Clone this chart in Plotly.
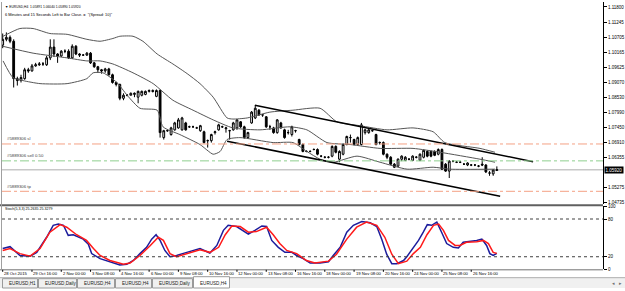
import plotly.graph_objects as go

# ---------------- data ----------------
symbol_header = "\u25BC EURUSD,H4  1.05891 1.06040 1.05890 1.05920"
timer_text = '6 Minutes and 15 Seconds Left to Bar Close. =  "(Spread: 10)"'

open_ = [1.1042,1.1063,1.1070,1.1056,1.0921,1.0914,1.0921,1.0953,1.0949,1.0967,
         1.0971,1.0974,1.0971,1.0996,1.1035,1.1010,1.1003,1.1020,1.1020,1.0996,
         1.1038,1.1010,1.1006,1.1006,1.1013,1.0978,1.0964,1.0953,1.0949,1.0956,
         1.0935,1.0907,1.0900,1.0850,1.0861,1.0861,1.0864,1.0854,1.0861,1.0864,
         1.0875,1.0878,1.0857,1.0878,1.0708,1.0733,1.0719,1.0736,1.0743,1.0736,
         1.0761,1.0747,1.0747,1.0743,1.0733,1.0729,1.0697,1.0697,1.0726,1.0736,
         1.0747,1.0740,1.0733,1.0736,1.0743,1.0765,1.0747,1.0708,1.0761,1.0779,
         1.0807,1.0790,1.0783,1.0747,1.0743,1.0726,1.0761,1.0736,1.0726,1.0719,
         1.0733,1.0701,1.0683,1.0658,1.0658,1.0665,1.0665,1.0641,1.0637,1.0637,
         1.0641,1.0676,1.0630,1.0648,1.0683,1.0708,1.0701,1.0683,1.0683,1.0726,
         1.0726,1.0733,1.0719,1.0690,1.0690,1.0648,1.0637,1.0612,1.0605,1.0630,
         1.0626,1.0630,1.0626,1.0637,1.0626,1.0637,1.0658,1.0658,1.0658,1.0648,
         1.0665,1.0612,1.0587,1.0623,1.0619,1.0619,1.0612,1.0609,1.0609,1.0609,
         1.0605,1.0612,1.0609,1.0580,1.0577,1.05891]
high = [1.1084,1.1088,1.1077,1.1063,1.0928,1.0935,1.0960,1.0960,1.0974,1.0978,
        1.0981,1.0981,1.1003,1.1063,1.1063,1.1013,1.1024,1.1027,1.1027,1.1045,
        1.1042,1.1013,1.1010,1.1017,1.1017,1.0981,1.0967,1.0956,1.0960,1.0960,
        1.0939,1.0910,1.0903,1.0868,1.0864,1.0871,1.0871,1.0878,1.0878,1.0878,
        1.0882,1.0882,1.0882,1.0882,1.0736,1.0736,1.0747,1.0765,1.0779,1.0783,
        1.0765,1.0751,1.0751,1.0747,1.0754,1.0733,1.0701,1.0722,1.0733,1.0758,
        1.0751,1.0747,1.0736,1.0765,1.0775,1.0768,1.0751,1.0729,1.0804,1.0825,
        1.0811,1.0793,1.0786,1.0754,1.0747,1.0775,1.0765,1.0740,1.0736,1.0751,
        1.0736,1.0704,1.0687,1.0662,1.0662,1.0669,1.0669,1.0644,1.0641,1.0641,
        1.0680,1.0680,1.0662,1.0687,1.0715,1.0719,1.0704,1.0712,1.0761,1.0740,
        1.0740,1.0736,1.0722,1.0694,1.0694,1.0651,1.0641,1.0616,1.0633,1.0644,
        1.0641,1.0633,1.0644,1.0641,1.0651,1.0665,1.0662,1.0662,1.0662,1.0669,
        1.0669,1.0616,1.0626,1.0626,1.0623,1.0623,1.0616,1.0619,1.0612,1.0612,
        1.0609,1.0637,1.0612,1.0587,1.0594,1.06040]
low = [1.1031,1.1056,1.1049,1.0889,1.0896,1.0907,1.0917,1.0942,1.0946,1.0964,
       1.0967,1.0967,1.0967,1.0988,1.0999,1.0978,1.0999,1.1013,1.0992,1.0992,
       1.1006,1.0999,1.1003,1.1003,1.0974,1.0960,1.0942,1.0939,1.0942,1.0932,
       1.0903,1.0893,1.0843,1.0843,1.0857,1.0861,1.0854,1.0832,1.0857,1.0861,
       1.0871,1.0871,1.0854,1.0708,1.0701,1.0729,1.0715,1.0733,1.0740,1.0733,
       1.0733,1.0743,1.0743,1.0740,1.0729,1.0687,1.0672,1.0690,1.0719,1.0733,
       1.0743,1.0726,1.0701,1.0733,1.0736,1.0743,1.0704,1.0704,1.0758,1.0775,
       1.0786,1.0783,1.0743,1.0736,1.0722,1.0722,1.0740,1.0704,1.0719,1.0712,
       1.0726,1.0680,1.0655,1.0655,1.0655,1.0662,1.0644,1.0637,1.0633,1.0633,
       1.0637,1.0651,1.0619,1.0644,1.0680,1.0690,1.0680,1.0680,1.0680,1.0719,
       1.0722,1.0729,1.0680,1.0683,1.0644,1.0630,1.0609,1.0598,1.0601,1.0623,
       1.0623,1.0626,1.0623,1.0633,1.0623,1.0633,1.0637,1.0637,1.0641,1.0644,
       1.0591,1.0584,1.0562,1.0619,1.0616,1.0616,1.0609,1.0605,1.0605,1.0605,
       1.0601,1.0605,1.0580,1.0570,1.0570,1.05890]
close = [1.1063,1.1070,1.1056,1.0921,1.0914,1.0925,1.0953,1.0949,1.0967,1.0971,
         1.0974,1.0974,1.0996,1.1035,1.1010,1.1003,1.1020,1.1020,1.0996,1.1038,
         1.1010,1.1006,1.1006,1.1013,1.0978,1.0964,1.0953,1.0949,1.0956,1.0935,
         1.0907,1.0900,1.0850,1.0861,1.0861,1.0868,1.0868,1.0875,1.0875,1.0875,
         1.0878,1.0875,1.0878,1.0726,1.0733,1.0733,1.0743,1.0761,1.0772,1.0779,
         1.0736,1.0747,1.0747,1.0743,1.0751,1.0690,1.0697,1.0719,1.0729,1.0754,
         1.0747,1.0743,1.0733,1.0761,1.0772,1.0747,1.0708,1.0726,1.0800,1.0814,
         1.0790,1.0790,1.0747,1.0747,1.0726,1.0772,1.0743,1.0708,1.0726,1.0747,
         1.0733,1.0683,1.0658,1.0658,1.0658,1.0665,1.0648,1.0641,1.0637,1.0637,
         1.0676,1.0655,1.0658,1.0683,1.0712,1.0708,1.0683,1.0708,1.0754,1.0736,
         1.0736,1.0733,1.0683,1.0690,1.0648,1.0637,1.0612,1.0601,1.0630,1.0641,
         1.0637,1.0630,1.0641,1.0637,1.0648,1.0662,1.0641,1.0641,1.0644,1.0665,
         1.0594,1.0587,1.0623,1.0623,1.0619,1.0619,1.0612,1.0616,1.0609,1.0609,
         1.0605,1.0609,1.0584,1.0580,1.0591,1.05920]

# Bollinger bands (read as samples: bar position, price)
bb_upper_x = [0.1,4.7,8.3,12.9,17.6,23.0,26.6,30.1,32.0,35.6,38.3,42.2,46.5,50.4,53.9,57.5,61.3,62.9,66.8,73.0,79.3,86.7,91.3,97.6,105.0,112.1,117.6,120.8,130.4,134.5]
bb_upper_y = [1.1074,1.1102,1.1102,1.1084,1.1081,1.1063,1.1056,1.1066,1.1074,1.1074,1.1056,1.1010,1.0974,1.0939,1.0903,1.0854,1.0779,1.0775,1.0779,1.0800,1.0807,1.0814,1.0765,1.0751,1.0736,1.0743,1.0729,1.0690,1.0669,1.0655]
bb_mid_x = [0.0,8.3,17.6,23.0,26.6,30.1,35.6,41.1,46.5,52.0,57.5,62.9,70.3,78.5,83.1,88.6,94.9,103.1,112.1,119.5,130.4,134.5]
bb_mid_y = [1.1038,1.1013,1.0996,1.0985,1.0985,1.0974,1.0942,1.0903,1.0843,1.0807,1.0772,1.0743,1.0736,1.0747,1.0736,1.0690,1.0683,1.0669,1.0669,1.0655,1.0630,1.0619]
bb_lower_x = [0.1,2.8,5.5,10.2,17.6,23.0,24.7,27.4,31.2,34.0,37.5,42.2,43.8,48.4,53.9,57.5,59.4,61.3,64.8,73.9,79.3,83.1,86.7,90.3,96.8,103.1,110.5,117.6,122.2,134.5]
bb_lower_y = [1.0985,1.0925,1.0914,1.0903,1.0903,1.0921,1.0942,1.0942,1.0907,1.0861,1.0814,1.0807,1.0747,1.0719,1.0683,1.0648,1.0658,1.0701,1.0708,1.0690,1.0690,1.0658,1.0630,1.0619,1.0641,1.0619,1.0594,1.0601,1.0594,1.0594]

# Trend channel (bar position, price)
channel_upper_x = [68.9, 144.9]
channel_upper_y = [1.0825, 1.0621]
channel_lower_x = [61.3, 135.9]
channel_lower_y = [1.0695, 1.0496]

# Order levels
order_labels = ["#5889306 sl", "#5889306 sell 0.50", "#5889306 tp"]
order_prices = [1.0685, 1.0624, 1.0514]
order_colors = ["#f4a184", "#8fcf8f", "#f4a184"]

# Stochastic (5,3,3)
stoch_k_x = [0,2,4.7,7.5,9.3,12,13.8,15.2,16.6,17.9,19.3,22,23.4,24.3,26.6,28.4,32,33.9,35.7,37.5,39.3,40.7,41.9,43,44.3,45.7,47.5,50.3,53.9,56.6,58.5,60.3,61.6,63.9,65.7,67.1,68.9,70.8,72.1,73.5,75.3,77.1,79,80.3,82.1,84,86.7,89,90.3,92.2,94,95.8,98.1,100.4,102.2,103.6,104.9,106.3,107.7,109.5,110.4,112.2,113.6,114.9,116,117.2,118.6,119.9,121.3,123.1,124.5,125.8,127.7,129.5,130.9,132.2,133.1,134,135]
stoch_k_y = [33,36,22,21,27,51,70,72,70,54,55,48,40,25,17,14,7,8,14,25,35,48,55,46,30,20,22,27,33,26,38,62,70,68,62,56,62,69,68,46,35,27,27,22,17,10,10,12,22,35,59,70,76,74,68,47,24,9,9,14,20,35,46,59,71,70,75,59,41,35,34,43,44,46,48,38,25,22,25.26]
stoch_d_x = [0,2,4.7,7.5,10.2,12.9,15.7,17.5,20.2,22.9,24.8,26.6,29.3,33,34.8,37.5,40.2,42.5,43.9,45.7,47.5,50.3,53.9,56.6,59,60.8,62.6,64.9,67.1,69.3,72.1,73.9,75.7,77.6,80.3,83,85.3,89,91.2,94,96.7,99.4,102.2,104.4,106.3,108.1,110.4,112.2,114.1,115.9,117.7,119.1,120.4,121.8,123.6,124.9,126.7,129.5,131.3,132.7,134,135]
stoch_d_y = [30,33,25,21,33,59,71,67,55,46,33,22,14,8,10,22,37,51,46,25,20,25,31,27,35,55,69,68,59,60,67,55,41,30,25,14,10,13,24,48,67,75,70,51,24,9,13,25,35,55,70,72,62,46,38,38,43,44,46,41,27,25.33]
stoch_levels = [80, 20]
stoch_label = "Stoch(5,3,3) 25.2635 25.3279"

# Axis labels
price_ticks = [1.11800,1.11245,1.10705,1.10165,1.09625,1.09070,1.08530,1.07990,1.07450,1.06910,1.06355,1.05275,1.04735]
stoch_ticks = [100, 80, 20, 0]
time_tick_bars = [0,8,16,24,32,40,48,56,64,72,80,88,96,104,112,120,128]
time_tick_labels = ["28 Oct 2015","29 Oct 16:00","2 Nov 00:00","3 Nov 08:00","4 Nov 16:00",
                    "6 Nov 00:00","9 Nov 08:00","10 Nov 16:00","12 Nov 00:00","13 Nov 08:00",
                    "16 Nov 16:00","18 Nov 00:00","19 Nov 08:00","20 Nov 16:00","24 Nov 00:00",
                    "25 Nov 08:00","26 Nov 16:00"]
tab_names = ["EURUSD,H1","EURUSD,Daily","EURUSD,H4","EURUSD,H4","EURUSD,Daily","EURUSD,H4"]

# ---------------- layout helpers (pixels -> paper) ----------------
W, H = 625, 291
FONT = "Liberation Sans"
def PX(p): return p / W
def PY(p): return 1 - p / H
AX_RIGHT = 603
MAIN_BOTTOM = 206
SUB_TOP, SUB_BOTTOM = 208, 272
XR = [-0.19, 164.0]

bars = list(range(len(close)))
fig = go.Figure()

fig.add_trace(go.Candlestick(
    x=bars, open=open_, high=high, low=low, close=close,
    increasing=dict(line=dict(color="black", width=1), fillcolor="white"),
    decreasing=dict(line=dict(color="black", width=1), fillcolor="black"),
    whiskerwidth=0, showlegend=False, hoverinfo="skip", xaxis="x", yaxis="y"))

for bx, by in [(bb_upper_x, bb_upper_y), (bb_mid_x, bb_mid_y), (bb_lower_x, bb_lower_y)]:
    fig.add_trace(go.Scatter(x=bx, y=by, mode="lines", line=dict(color="#555555", width=1, shape="spline", smoothing=0.6),
                             showlegend=False, hoverinfo="skip", xaxis="x", yaxis="y"))

for cx, cy in [(channel_upper_x, channel_upper_y), (channel_lower_x, channel_lower_y)]:
    fig.add_trace(go.Scatter(x=cx, y=cy, mode="lines", line=dict(color="black", width=1.5),
                             showlegend=False, hoverinfo="skip", xaxis="x", yaxis="y"))

fig.add_trace(go.Scatter(x=stoch_k_x, y=stoch_k_y, mode="lines", line=dict(color="#1c1c9c", width=1.5),
                         showlegend=False, hoverinfo="skip", xaxis="x2", yaxis="y2"))
fig.add_trace(go.Scatter(x=stoch_d_x, y=stoch_d_y, mode="lines", line=dict(color="#ff1a1a", width=1.5),
                         showlegend=False, hoverinfo="skip", xaxis="x2", yaxis="y2"))

shapes = []
annotations = []

# current bid line
shapes.append(dict(type="line", xref="paper", yref="y", x0=PX(2), x1=PX(AX_RIGHT), y0=close[-1], y1=close[-1],
                   line=dict(color="#c8c8c8", width=1.5), layer="below"))
# order lines
for lbl, pr, col in zip(order_labels, order_prices, order_colors):
    shapes.append(dict(type="line", xref="paper", yref="y", x0=PX(2), x1=PX(AX_RIGHT), y0=pr, y1=pr,
                       line=dict(color=col, width=1, dash="dashdot")))
    annotations.append(dict(xref="paper", yref="y", x=PX(5), y=pr, text=lbl, showarrow=False,
                            xanchor="left", yanchor="bottom", yshift=0.5,
                            font=dict(family=FONT, size=4.3, color="#404040")))
# stoch levels
for lv in stoch_levels:
    shapes.append(dict(type="line", xref="paper", yref="y2", x0=PX(2), x1=PX(AX_RIGHT), y0=lv, y1=lv,
                       line=dict(color="#404040", width=1, dash="dot")))

# pane separators / frame
shapes.append(dict(type="line", xref="paper", yref="paper", x0=0, x1=PX(AX_RIGHT), y0=PY(206.8), y1=PY(206.8),
                   line=dict(color="#606060", width=2)))
shapes.append(dict(type="line", xref="paper", yref="paper", x0=0, x1=PX(AX_RIGHT), y0=PY(272.5), y1=PY(272.5),
                   line=dict(color="#707070", width=1)))
shapes.append(dict(type="line", xref="paper", yref="paper", x0=PX(1.5), x1=PX(1.5), y0=PY(0), y1=PY(272.5),
                   line=dict(color="#a0a0a0", width=1)))

# tab bar
shapes.append(dict(type="rect", xref="paper", yref="paper", x0=0, x1=1, y0=PY(291), y1=PY(280),
                   fillcolor="#f0f0f0", line=dict(width=0), layer="below"))
shapes.append(dict(type="line", xref="paper", yref="paper", x0=0, x1=1, y0=PY(280.5), y1=PY(280.5),
                   line=dict(color="#b0b0b0", width=1)))
tab_edges = [2, 38, 77, 115, 152, 193, 230]
for k, name in enumerate(tab_names):
    x0, x1 = tab_edges[k], tab_edges[k + 1]
    active = (k == len(tab_names) - 1)
    shapes.append(dict(type="rect", xref="paper", yref="paper", x0=PX(x0 + 0.5), x1=PX(x1 - 0.5),
                       y0=PY(291), y1=PY(279.5 if active else 281.5),
                       fillcolor="white" if active else "#f0f0f0",
                       line=dict(color="#9a9a9a", width=1)))
    annotations.append(dict(xref="paper", yref="paper", x=PX(x0 + 5), y=PY(286), text=name, showarrow=False,
                            xanchor="left", yanchor="middle", font=dict(family=FONT, size=4.6, color="#202020")))
annotations.append(dict(xref="paper", yref="paper", x=PX(613), y=PY(286), text="\u25C2", showarrow=False,
                        xanchor="center", yanchor="middle", font=dict(family=FONT, size=5, color="#707070")))
annotations.append(dict(xref="paper", yref="paper", x=PX(620.5), y=PY(286), text="\u25B8", showarrow=False,
                        xanchor="center", yanchor="middle", font=dict(family=FONT, size=5, color="#707070")))

# header texts
annotations.append(dict(xref="paper", yref="paper", x=PX(3), y=PY(5), text=symbol_header, showarrow=False,
                        xanchor="left", yanchor="middle", font=dict(family=FONT, size=3.3, color="black")))
annotations.append(dict(xref="paper", yref="paper", x=PX(3), y=PY(13), text=timer_text, showarrow=False,
                        xanchor="left", yanchor="middle", font=dict(family=FONT, size=3.9, color="black")))
annotations.append(dict(xref="paper", yref="paper", x=PX(3), y=PY(211), text=stoch_label, showarrow=False,
                        xanchor="left", yanchor="middle", font=dict(family=FONT, size=3.6, color="black")))

# current price label
annotations.append(dict(xref="paper", yref="y", x=PX(AX_RIGHT + 1), y=close[-1], text="%.5f" % close[-1],
                        showarrow=False, xanchor="left", yanchor="middle", bgcolor="black", borderpad=0.5,
                        font=dict(family=FONT, size=4.5, color="white")))

# time labels
for b, t in zip(time_tick_bars, time_tick_labels):
    annotations.append(dict(xref="x2", yref="paper", x=b, y=PY(276.5), text=t, showarrow=False,
                            xanchor="left", yanchor="middle", xshift=-0.5,
                            font=dict(family=FONT, size=4.2, color="black")))
    shapes.append(dict(type="line", xref="x2", yref="paper", x0=b, x1=b, y0=PY(272.5), y1=PY(274.5),
                       line=dict(color="black", width=1)))

axis_common = dict(showgrid=False, zeroline=False, fixedrange=True)
fig.update_layout(
    width=W, height=H, margin=dict(l=0, r=0, t=0, b=0),
    paper_bgcolor="white", plot_bgcolor="white", showlegend=False, hovermode=False,
    xaxis=dict(domain=[PX(2), PX(AX_RIGHT)], range=XR, showticklabels=False, ticks="",
               rangeslider=dict(visible=False), anchor="y", **axis_common),
    yaxis=dict(domain=[PY(MAIN_BOTTOM), 1], range=[1.04665, 1.11978], side="right", anchor="x",
               tickvals=price_ticks, ticktext=["%.5f" % v for v in price_ticks],
               ticks="outside", ticklen=3, tickcolor="black", showline=True, linecolor="black", linewidth=1,
               tickfont=dict(family=FONT, size=4.5, color="black"), **axis_common),
    xaxis2=dict(domain=[PX(2), PX(AX_RIGHT)], range=XR, showticklabels=False, ticks="", anchor="y2", **axis_common),
    yaxis2=dict(domain=[PY(SUB_BOTTOM), PY(SUB_TOP)], range=[0, 100], side="right", anchor="x2",
                tickvals=stoch_ticks, ticktext=[str(v) for v in stoch_ticks],
                ticks="outside", ticklen=3, tickcolor="black", showline=True, linecolor="black", linewidth=1,
                tickfont=dict(family=FONT, size=4.5, color="black"), **axis_common),
    shapes=shapes, annotations=annotations,
)

fig.write_html("out.html")
